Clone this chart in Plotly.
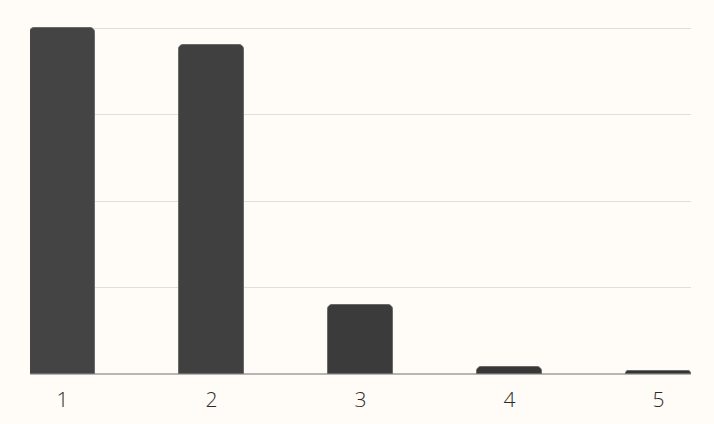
import plotly.graph_objects as go

categories = ["1", "2", "3", "4", "5"]
values = [100, 95, 20, 2, 1]
bar_colors = ["#444444", "#404040", "#3b3b3b", "#373737", "#333333"]

fig = go.Figure()
fig.add_trace(go.Bar(
    x=list(range(len(categories))),
    y=values,
    width=0.436,
    marker=dict(color=bar_colors, line=dict(color="#6a6a6a", width=1), cornerradius=5),
    hoverinfo="skip",
))

fig.update_layout(
    width=714, height=424,
    margin=dict(l=30, r=23, t=27, b=50, autoexpand=False),
    paper_bgcolor="#fffbf6",
    plot_bgcolor="#fffbf6",
    showlegend=False,
    bargap=0,
)
fig.update_xaxes(
    range=[-0.218, 4.218],
    tickmode="array",
    tickvals=list(range(len(categories))),
    ticktext=categories,
    showgrid=False,
    zeroline=False,
    showline=False,
    ticks="",
    automargin=False,
    ticklabelstandoff=11,
    tickfont=dict(family="Open Sans", size=21, color="#2a2a2a", weight=300),
)
fig.update_yaxes(
    range=[0, 100.3],
    tickvals=[25, 50, 75, 100],
    showticklabels=False,
    showgrid=True,
    gridcolor="#e2ded8",
    gridwidth=1,
    zeroline=True,
    zerolinecolor="#b8b6b2",
    zerolinewidth=1.5,
    showline=False,
)

# page body has a default margin; drop it so the figure fills the window
fig.write_html("out.html", config={"displayModeBar": False},
               post_script="document.body.style.margin='0';document.body.style.background='#fffbf6';")
